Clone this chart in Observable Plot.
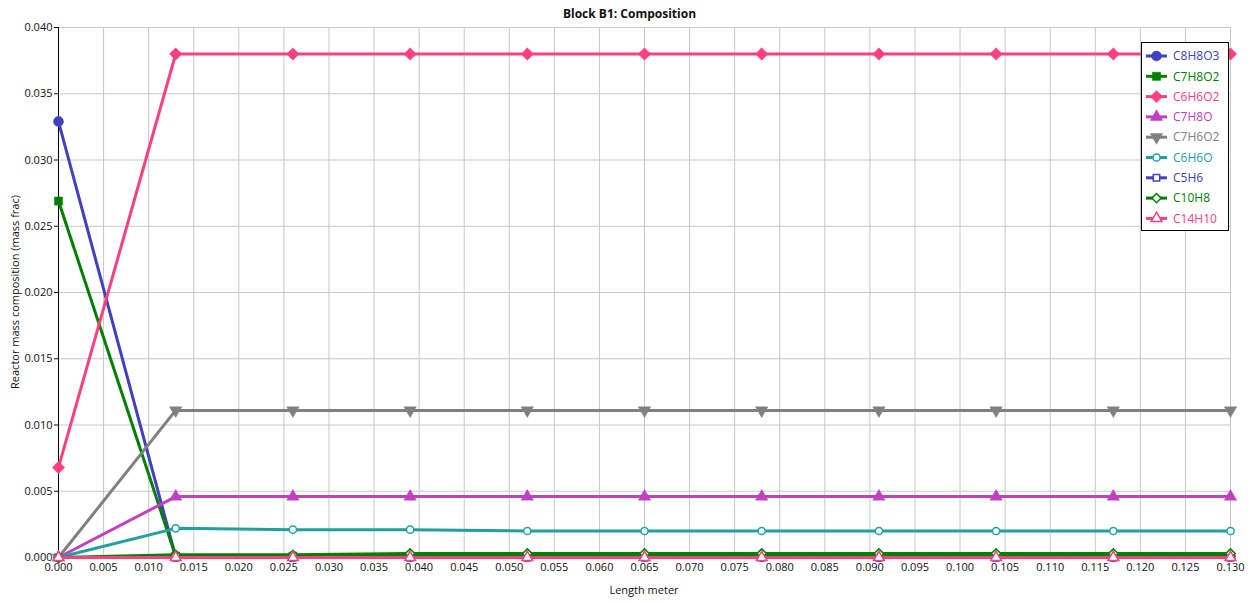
<!DOCTYPE html>
<html><head><meta charset="utf-8">
<script src="https://cdn.jsdelivr.net/npm/d3@7"></script>
<script src="https://cdn.jsdelivr.net/npm/@observablehq/plot@0.6"></script>
<style>
body{margin:0;background:#fff;font-family:"Open Sans",sans-serif;}
#wrap{position:relative;width:1259px;height:603px;overflow:hidden;}
.t{position:absolute;white-space:nowrap;color:#111;}
#title{left:0;width:1259px;top:5px;text-align:center;font-weight:bold;font-size:12px;}
#xlab{left:58px;width:1172px;top:582px;text-align:center;font-size:11px;}
#ylab{left:14px;top:292px;font-size:11px;transform:translate(-50%,-50%) rotate(-90deg);}
#legend{position:absolute;left:1141px;top:42px;}
</style></head>
<body><div id="wrap">
<div id="title" class="t">Block B1: Composition</div>
<div id="xlab" class="t">Length meter</div>
<div id="ylab" class="t">Reactor mass composition (mass frac)</div>
</div>
<script>
const length = [0, 0.013, 0.026, 0.039, 0.052, 0.065, 0.078, 0.091, 0.104, 0.117, 0.130];
const C8H8O3 = [0.0329, 0.00005, 0.00005, 0.00005, 0.00005, 0.00005, 0.00005, 0.00005, 0.00005, 0.00005, 0.00005];
const C7H8O2 = [0.0269, 0.0001, 0.0001, 0.0001, 0.0001, 0.0001, 0.0001, 0.0001, 0.0001, 0.0001, 0.0001];
const C6H6O2 = [0.0068, 0.0380, 0.0380, 0.0380, 0.0380, 0.0380, 0.0380, 0.0380, 0.0380, 0.0380, 0.0380];
const C7H8O = [0, 0.0046, 0.0046, 0.0046, 0.0046, 0.0046, 0.0046, 0.0046, 0.0046, 0.0046, 0.0046];
const C7H6O2 = [0, 0.0111, 0.0111, 0.0111, 0.0111, 0.0111, 0.0111, 0.0111, 0.0111, 0.0111, 0.0111];
const C6H6O = [0, 0.0022, 0.0021, 0.0021, 0.0020, 0.0020, 0.0020, 0.0020, 0.0020, 0.0020, 0.0020];
const C5H6 = [0, 0, 0, 0, 0, 0, 0, 0, 0, 0, 0];
const C10H8 = [0, 0.0002, 0.0002, 0.0003, 0.0003, 0.0003, 0.0003, 0.0003, 0.0003, 0.0003, 0.0003];
const C14H10 = [0, 0, 0, 0, 0, 0, 0, 0, 0, 0, 0];

const seriesNames = ["C8H8O3","C7H8O2","C6H6O2","C7H8O","C7H6O2","C6H6O","C5H6","C10H8","C14H10"];
const seriesValues = [C8H8O3, C7H8O2, C6H6O2, C7H8O, C7H6O2, C6H6O, C5H6, C10H8, C14H10];
const seriesColors = ["#4040c0","#008000","#ff4080","#c040c0","#808080","#20a0a0","#4040c0","#008000","#ff4080"];
const seriesSymbols = ["circle","square","diamond2","triangle","triangle","circle","square","diamond2","triangle"];
const seriesRotate = [0,0,0,0,180,0,0,0,0];
const seriesFilled = [true,true,true,true,true,false,false,false,false];
const seriesR = [5,4.6,5.6,4.6,4.6,3.6,3.6,4.2,4];

const xTicks = d3.range(0, 0.1301, 0.005);
const yTicks = d3.range(0, 0.0401, 0.005);
const fmt = d3.format(".3f");

const marks = [
  Plot.gridX(xTicks, {stroke:"#c8c8c8", strokeOpacity:1}),
  Plot.gridY(yTicks, {stroke:"#c8c8c8", strokeOpacity:1}),
  Plot.axisX(xTicks, {tickSize:0, tickPadding:6, tickFormat:fmt, label:null, fontSize:11}),
  Plot.axisY(yTicks, {tickSize:4, tickPadding:2, tickFormat:fmt, label:null, fontSize:11}),
  Plot.ruleX([0], {stroke:"#000"}),
  Plot.ruleY([0], {stroke:"#000"})
];
seriesNames.forEach((name, i) => {
  const data = length.map((x, j) => ({x, y: seriesValues[i][j]}));
  marks.push(Plot.line(data, {x:"x", y:"y", stroke:seriesColors[i], strokeWidth:3}));
  marks.push(Plot.dot(data, {x:"x", y:"y", symbol:seriesSymbols[i], r:seriesR[i], rotate:seriesRotate[i],
    fill: seriesFilled[i] ? seriesColors[i] : "#fff", stroke: seriesColors[i], strokeWidth: seriesFilled[i] ? 0.5 : 1.5}));
});

const chart = Plot.plot({
  width:1259, height:603,
  marginLeft:58, marginRight:29, marginTop:27, marginBottom:46,
  style:{fontFamily:'"Open Sans",sans-serif', fontSize:"11px", color:"#111", background:"#fff"},
  x:{domain:[0,0.13]},
  y:{domain:[0,0.04]},
  marks
});
document.getElementById("wrap").prepend(chart);

// legend
const symMap = {circle:d3.symbolCircle, square:d3.symbolSquare, diamond2:d3.symbolDiamond2, triangle:d3.symbolTriangle};
const lw = 88, lh = 189;
const leg = d3.select("#wrap").append("svg").attr("id","legend").attr("width",lw).attr("height",lh);
leg.append("rect").attr("x",0.5).attr("y",0.5).attr("width",lw-1).attr("height",lh-1).attr("fill","#fff").attr("stroke","#000");
seriesNames.forEach((name, i) => {
  const cy = 14 + i*20.3;
  const g = leg.append("g");
  g.append("line").attr("x1",5).attr("x2",26).attr("y1",cy).attr("y2",cy).attr("stroke",seriesColors[i]).attr("stroke-width",3);
  g.append("path").attr("d", d3.symbol(symMap[seriesSymbols[i]], Math.PI*seriesR[i]*seriesR[i])())
    .attr("transform",`translate(15.5,${cy}) rotate(${seriesRotate[i]})`)
    .attr("fill", seriesFilled[i] ? seriesColors[i] : "#fff").attr("stroke",seriesColors[i]).attr("stroke-width", seriesFilled[i]?0.5:1.5);
  g.append("text").attr("x",32).attr("y",cy).attr("dy","0.35em").attr("fill",seriesColors[i])
    .attr("font-family",'"Open Sans",sans-serif').attr("font-size",12).text(name);
});
</script>
</body></html>
